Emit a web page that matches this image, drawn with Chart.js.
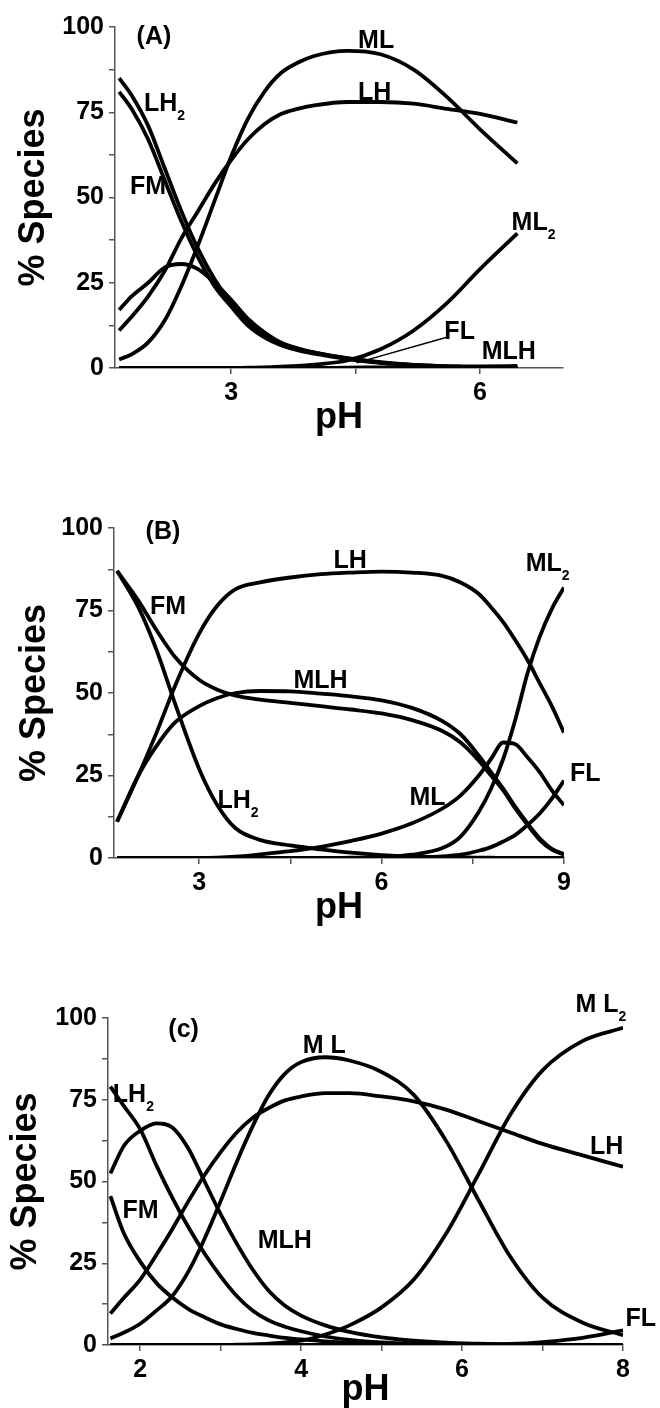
<!DOCTYPE html>
<html lang="en">
<head>
<meta charset="UTF-8">
<title>% Species vs pH</title>
<script src="https://cdn.jsdelivr.net/npm/chart.js"></script>
<style>
  body { margin: 0; background: #fff; }
  .panel { position: absolute; left: 0; }
</style>
</head>
<body>
<canvas id="chartA" class="panel" width="660" height="460" style="top:0"></canvas>
<canvas id="chartB" class="panel" width="660" height="470" style="top:460px"></canvas>
<canvas id="chartC" class="panel" width="660" height="478" style="top:930px"></canvas>
<script>
// ---- panel (A) ----
const phA   = [1.65, 1.8, 2.0, 2.2, 2.4, 2.6, 2.8, 3.0, 3.2, 3.4, 3.6, 3.8, 4.0, 4.4, 4.8, 5.2, 5.6, 6.0, 6.45];
const lh2A  = [85, 80, 71, 58.5, 46, 35, 26, 19, 13.5, 9.5, 7, 5.5, 4.5, 2.8, 1.6, 0.9, 0.5, 0.2, 0.1];
const fmA   = [81, 76, 67, 55, 43, 32.5, 24, 18, 12.5, 9, 6.7, 5.2, 4.2, 2.6, 1.5, 0.8, 0.4, 0.2, 0.1];
const mlhA  = [17, 21, 25, 29.5, 30.5, 29, 25, 20, 14.5, 10.5, 7.5, 5.8, 4.6, 2.9, 1.7, 0.9, 0.5, 0.2, 0.1];
const lhA   = [11, 15, 21, 28.5, 38, 46, 54, 61, 67, 71.5, 74.5, 76, 77, 78, 78, 77.5, 76, 74.5, 72];
const mlA   = [2.5, 4, 7.5, 14, 24, 36, 49, 62, 73, 81, 86.5, 89.5, 91.5, 93, 92, 87.5, 79.5, 70, 60];
const ml2A  = [0, 0, 0, 0, 0, 0, 0, 0, 0.1, 0.2, 0.4, 0.6, 1, 2.2, 5.5, 11, 19, 29, 39.5];
const flA   = [0, 0, 0, 0, 0, 0, 0, 0, 0, 0, 0, 0, 0, 0.1, 0.2, 0.3, 0.4, 0.5, 0.6];

// ---- panel (B) ----
const phB   = [1.65, 2.0, 2.3, 2.6, 3.0, 3.3, 3.6, 4.0, 4.5, 5.0, 5.5, 6.0, 6.5, 7.0, 7.3, 7.6, 7.8, 8.0, 8.2, 8.4, 8.6, 8.8, 9.0];
const lhB   = [11, 25, 38, 52, 68, 76.5, 81.5, 83.5, 85, 86, 86.5, 86.8, 86.5, 85.5, 83.5, 80, 76, 71.5, 66, 60, 53, 46, 38];
const fmB   = [87, 78, 69, 61, 54, 51, 49.2, 48, 47, 46, 45, 43.8, 41.8, 38.5, 35, 29.5, 25, 20.5, 15, 10, 5.5, 2.5, 1];
const mlhB  = [11, 25, 34, 41, 46, 48.5, 50, 50.6, 50.5, 49.8, 49, 47.8, 45.5, 41.5, 37.5, 31, 26, 21, 15.5, 10.5, 6, 2.8, 1.2];
const lh2B  = [87, 76, 63, 47, 27, 16, 9, 5.5, 3.8, 2.6, 1.6, 0.9, 0.5, 0.3, 0.2, 0.1, 0.1, 0, 0, 0, 0, 0, 0];
const mlB   = [0, 0, 0, 0, 0, 0.1, 0.4, 1.1, 2.1, 3.4, 5.2, 7.4, 10.5, 15, 19, 25, 30, 35, 34.5, 30.5, 26, 20.5, 16];
const ml2B  = [0, 0, 0, 0, 0, 0, 0, 0, 0, 0, 0.1, 0.3, 1, 3, 6.5, 14, 21, 30, 42, 56, 67, 75.5, 82];
const flB   = [0, 0, 0, 0, 0, 0, 0, 0, 0, 0, 0, 0, 0.2, 0.5, 1, 2.2, 3.3, 5, 7, 10, 13.5, 18, 23.5];

// ---- panel (c) ----
const phC   = [1.63, 1.8, 2.0, 2.2, 2.4, 2.6, 2.8, 3.0, 3.2, 3.4, 3.6, 3.8, 4.0, 4.3, 4.6, 5.0, 5.4, 5.8, 6.2, 6.6, 7.0, 7.5, 8.0];
const lh2C  = [79, 73, 66, 55, 45, 36, 28, 21, 15, 10.5, 7.5, 5.6, 4.2, 2.6, 1.6, 0.8, 0.4, 0.2, 0.1, 0, 0, 0, 0];
const fmC   = [45.5, 34, 25.5, 19, 14.5, 11, 8.5, 6.3, 4.9, 3.7, 2.9, 2.2, 1.7, 1.1, 0.7, 0.4, 0.2, 0.1, 0, 0, 0, 0, 0];
const mlhC  = [52.5, 61, 65.5, 67.8, 66.5, 60, 50, 40, 31, 23, 16.5, 12, 9, 6, 4, 2.3, 1.3, 0.7, 0.4, 0.2, 0.1, 0, 0];
const lhC   = [9.6, 14.5, 20, 27.5, 35.5, 44, 52, 59, 65, 69.5, 72.5, 74.8, 76, 77, 77, 76, 74.5, 72, 68.5, 65, 61.5, 58, 54.5];
const mlC   = [2, 3.8, 6.5, 10.5, 15, 22.5, 32.5, 44, 56, 67, 76.5, 83, 86.5, 88, 87, 83.5, 76.5, 62.5, 44.5, 27, 14.5, 6.8, 3];
const ml2C  = [0, 0, 0, 0, 0, 0, 0, 0, 0.1, 0.2, 0.4, 0.8, 1.3, 3.2, 6, 11.5, 20, 34, 52, 70.5, 84, 93, 97];
const flC   = [0, 0, 0, 0, 0, 0, 0, 0, 0, 0, 0, 0, 0, 0, 0, 0, 0, 0, 0.1, 0.3, 0.9, 2.2, 4.5];

// ticks
const yTicks  = [0, 12.5, 25, 37.5, 50, 62.5, 75, 87.5, 100];
const yLabels = [0, 25, 50, 75, 100];
const xTicksA = [3, 4.5, 6];        const xLabelsA = [3, 6];
const xTicksB = [3, 4.5, 6, 7.5, 9]; const xLabelsB = [3, 6, 9];
const xTicksC = [2, 3, 4, 5, 6, 7, 8]; const xLabelsC = [2, 4, 6, 8];

// curve labels: [text, subscript, pH (left edge), % (middle)]
const labelsA = [['(A)', '', 1.86, 97], ['ML', '', 4.53, 96], ['LH', '', 4.53, 80.5], ['LH', '2', 1.95, 77.5],
                 ['FM', '', 1.78, 53], ['ML', '2', 6.38, 42.5], ['FL', '', 5.57, 10.5], ['MLH', '', 6.02, 4.7]];
const leadersA = [[5.6, 9.0, 4.51, 1.5]];
const labelsB = [['(B)', '', 2.12, 98.8], ['LH', '', 5.21, 90], ['ML', '2', 8.37, 89], ['FM', '', 2.19, 76],
                 ['MLH', '', 4.55, 53.7], ['LH', '2', 3.3, 17.2], ['ML', '', 6.46, 18.2], ['FL', '', 9.1, 25.3]];
const labelsC = [['(c)', '', 2.35, 96.2], ['M L', '', 4.02, 91.4], ['M L', '2', 7.41, 104], ['LH', '2', 1.66, 76.3],
                 ['LH', '', 7.59, 60.6], ['FM', '', 1.78, 40.9], ['MLH', '', 3.46, 31.8], ['FL', '', 8.03, 8]];

const FONT = "'Liberation Sans', Arial, sans-serif";

function labelPlugin(items, leaders) {
    return {
        id: 'speciesLabels',
        afterDatasetsDraw(chart) {
            const { ctx, scales: { x, y } } = chart;
            ctx.save();
            ctx.strokeStyle = '#000';
            ctx.lineWidth = 1.5;
            (leaders || []).forEach(([x1, y1, x2, y2]) => {
                ctx.beginPath();
                ctx.moveTo(x.getPixelForValue(x1), y.getPixelForValue(y1));
                ctx.lineTo(x.getPixelForValue(x2), y.getPixelForValue(y2));
                ctx.stroke();
            });
            ctx.fillStyle = '#000';
            ctx.textBaseline = 'middle';
            ctx.textAlign = 'left';
            items.forEach(([txt, sub, px, py]) => {
                const X = x.getPixelForValue(px), Y = y.getPixelForValue(py);
                ctx.font = 'bold 25px ' + FONT;
                ctx.fillText(txt, X, Y);
                if (sub) {
                    const w = ctx.measureText(txt).width;
                    ctx.font = 'bold 14px ' + FONT;
                    ctx.fillText(sub, X + w, Y + 12);
                }
            });
            ctx.restore();
        }
    };
}

function makePanel(id, ph, series, xMin, xMax, xTicks, xLabels, area, yTitlePad, xTitlePad, labels, leaders) {
    const canvas = document.getElementById(id);
    const W = canvas.width, H = canvas.height;
    new Chart(canvas, {
        type: 'line',
        data: {
            datasets: series.map(s => ({
                data: ph.map((p, i) => ({ x: p, y: s[i] })),
                borderColor: '#000',
                borderWidth: 3.8,
                pointRadius: 0,
                cubicInterpolationMode: 'monotone',
                fill: false
            }))
        },
        options: {
            responsive: false,
            animation: false,
            layout: { padding: { top: area.top, right: W - area.right, left: 0, bottom: 0 } },
            plugins: { legend: { display: false }, tooltip: { enabled: false } },
            scales: {
                x: {
                    type: 'linear', min: xMin, max: xMax,
                    afterBuildTicks: s => { s.ticks = xTicks.map(v => ({ value: v })); },
                    afterFit: s => { s.height = H - area.bottom; },
                    ticks: { callback: v => xLabels.includes(v) ? v : '', color: '#000', padding: 4,
                             maxRotation: 0, autoSkip: false, font: { family: FONT, size: 25, weight: 'bold' } },
                    grid: { drawOnChartArea: false, tickLength: 6, color: '#555', lineWidth: 1.5 },
                    border: { color: '#555', width: 1.5 },
                    title: { display: true, text: 'pH', color: '#000', padding: { top: 0, bottom: xTitlePad },
                             font: { family: FONT, size: 36, weight: 'bold', lineHeight: 1 } }
                },
                y: {
                    min: 0, max: 100,
                    afterBuildTicks: s => { s.ticks = yTicks.map(v => ({ value: v })); },
                    afterFit: s => { s.width = area.left; },
                    ticks: { callback: v => yLabels.includes(v) ? v : '', color: '#000', padding: 5,
                             font: { family: FONT, size: 25, weight: 'bold' } },
                    grid: { drawOnChartArea: false, tickLength: 6, color: '#555', lineWidth: 1.5 },
                    border: { color: '#555', width: 1.5 },
                    title: { display: true, text: '% Species', color: '#000', padding: { top: yTitlePad, bottom: 0 },
                             font: { family: FONT, size: 36, weight: 'bold', lineHeight: 1 } }
                }
            }
        },
        plugins: [labelPlugin(labels, leaders)]
    });
}

makePanel('chartA', phA, [lh2A, fmA, mlhA, lhA, mlA, ml2A, flA], 1.6, 7.0, xTicksA, xLabelsA,
          { left: 115, right: 563, top: 27, bottom: 368 }, 16, 24, labelsA, leadersA);
makePanel('chartB', phB, [lhB, fmB, mlhB, lh2B, mlB, ml2B, flB], 1.6, 9.0, xTicksB, xLabelsB,
          { left: 114, right: 564, top: 68, bottom: 398 }, 17, 4, labelsB, []);
makePanel('chartC', phC, [lh2C, fmC, mlhC, lhC, mlC, ml2C, flC], 1.6, 8.0, xTicksC, xLabelsC,
          { left: 108, right: 623, top: 88, bottom: 415 }, 8, 0, labelsC, []);
</script>
</body>
</html>
